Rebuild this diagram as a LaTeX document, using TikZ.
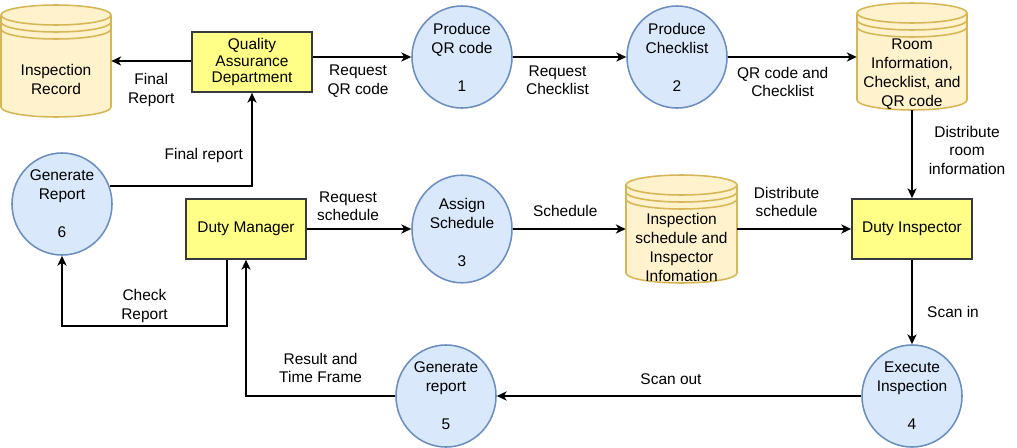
\documentclass[tikz,border=0pt]{standalone}
\usepackage{fontspec}
\setmainfont{Liberation Sans}
\usepackage{xcolor}
\usetikzlibrary{shapes.geometric, arrows.meta, positioning, calc}

\definecolor{procfill}{HTML}{DAE8FC}
\definecolor{procline}{HTML}{6C8EBF}
\definecolor{storefill}{HTML}{FFF2CC}
\definecolor{storeline}{HTML}{D6B656}
\definecolor{boxfill}{HTML}{FFFF88}
\definecolor{boxline}{HTML}{36393D}

% data store: name, x, y, half width, half height, text
\newcommand{\datastore}[6]{%
  \path[storeshape] (#2-#4,#3+#5-10) -- (#2-#4,#3-#5+10)
    arc[start angle=180, end angle=360, x radius=#4, y radius=10]
    -- (#2+#4,#3+#5-10)
    arc[start angle=0, end angle=180, x radius=#4, y radius=10] -- cycle;
  \foreach \off in {0,7,14}
    \draw[storeshape, fill=none] (#2-#4,#3+#5-10-\off)
      arc[start angle=180, end angle=360, x radius=#4, y radius=10];
  \node (#1) [storebox, minimum width=#4*0.05cm, minimum height=#5*0.05cm] at (#2,#3) {};
  \node (#1-text) [storetext] at (#2,#3-18) {#6};
}

\begin{document}
\begin{tikzpicture}[
    x=0.025cm, y=0.025cm,
    font=\fontsize{11pt}{13.5pt}\selectfont,
    box/.style = {rectangle, draw=boxline, fill=boxfill, line width=1.2pt, minimum width=3cm, minimum height=1.5cm, align=center, inner sep=2pt, font=\fontsize{11pt}{12pt}\selectfont},
    process/.style = {ellipse, draw=procline, fill=procfill, line width=1.1pt, minimum width=2.5cm, minimum height=2.55cm, inner sep=0pt, align=center},
    storeshape/.style = {draw=storeline, fill=storefill, line width=1.1pt},
    storebox/.style = {rectangle, inner sep=0pt},
    storetext/.style = {align=center, inner sep=0pt},
    lbl/.style = {align=center, inner sep=0pt, font=\fontsize{11pt}{13pt}\selectfont},
    arrow/.style = {line width=1.4pt, -{Stealth[length=7pt, width=6.5pt, inset=2pt]}}
]
\useasboundingbox (0,0) rectangle (1017,-447);

% top row
\datastore{rec}{56}{-61}{55}{56}{Inspection\\Record}
\node (qa) [box] at (252,-62) {Quality\\Assurance\\Department};
\node (qr) [process] at (462,-57) {Produce\\QR code\\[13.5pt]1};
\node (clist) [process] at (677,-57) {Produce\\Checklist\\[13.5pt]2};
\datastore{room}{912}{-56.5}{55}{53.5}{Room\\Information,\\Checklist, and\\QR code}

% middle row
\node (gen6) [process] at (62,-204) {Generate\\Report\\[13.5pt]6};
\node (dm) [box] at (246,-229) {Duty Manager};
\node (asg) [process] at (462,-229) {\mbox{}\\Assign\\Schedule\\[13.5pt]3};
\datastore{sched}{681.5}{-229}{55.5}{54}{Inspection\\schedule and\\Inspector\\Infomation}
\node (di) [box] at (912,-229) {Duty Inspector};

% bottom row
\node (gen5) [process] at (446,-396) {Generate\\report\\[13.5pt]5};
\node (exe) [process] at (912,-396) {Execute\\Inspection\\[13.5pt]4};
\coordinate (chkcorner) at (227,-326);

% flows
\draw [arrow] (qa.west |- rec.east) -- node[lbl, yshift=-0.725cm] (lfinal) {Final\\Report} (rec.east);
\draw [arrow] (qa.east |- qr.west) -- node[lbl, xshift=-0.1cm, yshift=-0.6cm] (lreqqr) {Request\\QR code} (qr.west);
\draw [arrow] (qr) -- node[lbl, xshift=-0.3cm, yshift=-0.575cm] (lreqchk) {Request\\Checklist} (clist);
\draw [arrow] (clist.east) -- node[lbl, xshift=-0.24cm, yshift=-0.625cm] (lqrchk) {QR code and\\Checklist} (clist.east -| room.west);
\draw [arrow] (room) -- node[lbl, xshift=1.375cm, yshift=0.1cm] (ldistroom) {Distribute\\room\\information} (di);
\draw [arrow] (gen6.21) -| node[lbl, pos=0.25, xshift=0.575cm, yshift=0.75cm] (lfinrep) {Final report} (qa.south);
\draw [arrow] (dm) -- node[lbl, xshift=-0.275cm, yshift=0.575cm] (lreqsch) {Request\\schedule} (asg);
\draw [arrow] (asg) -- node[lbl, xshift=-0.1cm, yshift=0.45cm] (lsch) {Schedule} (sched);
\draw [arrow] (sched) -- node[lbl, xshift=-0.19cm, yshift=0.675cm] (ldistsch) {Distribute\\schedule} (di);
\draw [arrow] (di) -- node[lbl, xshift=1.025cm, yshift=-0.25cm] (lscanin) {Scan in} (exe);
\draw [arrow] (exe) -- node[lbl, xshift=-0.2cm, yshift=0.425cm] (lscanout) {Scan out} (gen5);
\draw [arrow] (gen5.west) -| node[lbl, pos=0.25, yshift=0.7cm] (lresult) {Result and\\Time Frame} (dm.south);
\draw [arrow] (dm.south -| chkcorner) -- (chkcorner) -| node[lbl, pos=0.25, yshift=0.5cm] (lchk) {Check\\Report} (gen6.south);

\end{tikzpicture}
\end{document}
